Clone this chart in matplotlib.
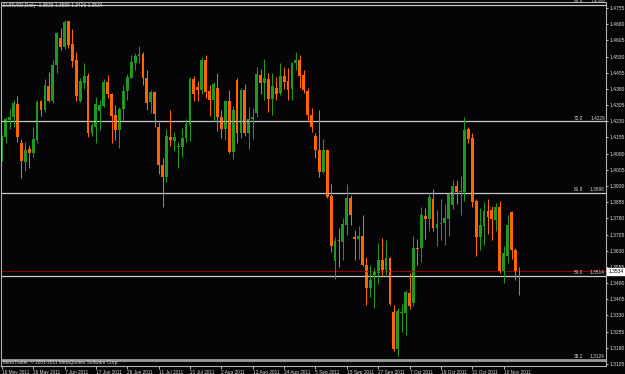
import matplotlib
matplotlib.use('Agg')
import matplotlib.pyplot as plt
import numpy as np

plt.rcParams['font.family'] = ['Liberation Sans', 'DejaVu Sans']

# EURUSD daily, 16 May 2011 - 16 Nov 2011
opens = [1.4089, 1.4156, 1.4236, 1.4248, 1.4309, 1.4128, 1.4043, 1.4100, 1.4084, 1.4143,
         1.4324, 1.4282, 1.4395, 1.4325, 1.4491, 1.4617, 1.4576, 1.4695, 1.4587, 1.4514,
         1.4324, 1.4409, 1.4441, 1.4177, 1.4205, 1.4279, 1.4302, 1.4413, 1.4356, 1.4259,
         1.4190, 1.4287, 1.4372, 1.4432, 1.4498, 1.4534, 1.4542, 1.4429, 1.4321, 1.4367,
         1.4205, 1.4027, 1.3973, 1.4159, 1.4140, 1.4112, 1.4112, 1.4154, 1.4213, 1.4426,
         1.4390, 1.4375, 1.4514, 1.4370, 1.4329, 1.4386, 1.4248, 1.4196, 1.4326, 1.4089,
         1.4421, 1.4177, 1.4375, 1.4177, 1.4239, 1.4270, 1.4444, 1.4406, 1.4426, 1.4332,
         1.4383, 1.4359, 1.4441, 1.4417, 1.4378, 1.4502, 1.4514, 1.4444, 1.4372, 1.4259,
         1.4162, 1.4097, 1.3993, 1.4097, 1.3884, 1.3584, 1.3680, 1.3672, 1.3749, 1.3876,
         1.3695, 1.3683, 1.3700, 1.3564, 1.3459, 1.3517, 1.3528, 1.3587, 1.3541, 1.3595,
         1.3345, 1.3173, 1.3343, 1.3343, 1.3436, 1.3389, 1.3644, 1.3641, 1.3791, 1.3776,
         1.3870, 1.3734, 1.3754, 1.3757, 1.3777, 1.3842, 1.3930, 1.3904, 1.3904, 1.4193,
         1.4154, 1.3862, 1.3695, 1.3745, 1.3814, 1.3819, 1.3772, 1.3834, 1.3538, 1.3606,
         1.3811, 1.3633, 1.3538]
highs = [1.4166, 1.4248, 1.4287, 1.4329, 1.4347, 1.4146, 1.4132, 1.4120, 1.4205, 1.4329,
         1.4329, 1.4426, 1.4460, 1.4514, 1.4645, 1.4661, 1.4699, 1.4697, 1.4658, 1.4549,
         1.4429, 1.4498, 1.4455, 1.4220, 1.4341, 1.4329, 1.4424, 1.4444, 1.4359, 1.4305,
         1.4295, 1.4398, 1.4449, 1.4537, 1.4545, 1.4579, 1.4553, 1.4468, 1.4375, 1.4370,
         1.4228, 1.4061, 1.4193, 1.4282, 1.4182, 1.4135, 1.4200, 1.4239, 1.4437, 1.4440,
         1.4418, 1.4526, 1.4537, 1.4398, 1.4414, 1.4455, 1.4282, 1.4329, 1.4375, 1.4301,
         1.4429, 1.4383, 1.4403, 1.4295, 1.4290, 1.4480, 1.4471, 1.4517, 1.4455, 1.4452,
         1.4437, 1.4502, 1.4483, 1.4475, 1.4506, 1.4553, 1.4537, 1.4468, 1.4383, 1.4290,
         1.4174, 1.4282, 1.4148, 1.4101, 1.3938, 1.3695, 1.3734, 1.3780, 1.3938, 1.3888,
         1.3726, 1.3745, 1.3796, 1.3602, 1.3564, 1.3548, 1.3664, 1.3687, 1.3680, 1.3602,
         1.3378, 1.3363, 1.3383, 1.3448, 1.3525, 1.3698, 1.3683, 1.3831, 1.3826, 1.3899,
         1.3915, 1.3819, 1.3868, 1.3847, 1.3904, 1.3958, 1.3958, 1.3976, 1.4251, 1.4202,
         1.4174, 1.3868, 1.3830, 1.3857, 1.3868, 1.3837, 1.3850, 1.3861, 1.3652, 1.3796,
         1.3813, 1.3641, 1.3555]
lows = [1.4047, 1.4128, 1.4194, 1.4205, 1.4135, 1.3969, 1.4000, 1.4015, 1.4066, 1.4128,
        1.4254, 1.4275, 1.4321, 1.4313, 1.4452, 1.4560, 1.4563, 1.4568, 1.4480, 1.4324,
        1.4318, 1.4380, 1.4159, 1.4160, 1.4128, 1.4190, 1.4298, 1.4336, 1.4128, 1.4143,
        1.4104, 1.4236, 1.4329, 1.4429, 1.4468, 1.4499, 1.4398, 1.4282, 1.4267, 1.4205,
        1.3986, 1.3834, 1.3950, 1.4115, 1.4094, 1.4015, 1.4066, 1.4135, 1.4138, 1.4325,
        1.4325, 1.4356, 1.4336, 1.4254, 1.4233, 1.4186, 1.4151, 1.4143, 1.4085, 1.4054,
        1.4128, 1.4151, 1.4162, 1.4101, 1.4146, 1.4248, 1.4356, 1.4329, 1.4275, 1.4259,
        1.4329, 1.4352, 1.4378, 1.4329, 1.4329, 1.4468, 1.4383, 1.4359, 1.4228, 1.4182,
        1.4058, 1.3973, 1.3989, 1.3873, 1.3626, 1.3497, 1.3556, 1.3587, 1.3703, 1.3749,
        1.3587, 1.3590, 1.3559, 1.3378, 1.3417, 1.3363, 1.3476, 1.3517, 1.3517, 1.3378,
        1.3167, 1.3142, 1.3255, 1.3239, 1.3358, 1.3374, 1.3564, 1.3579, 1.3683, 1.3723,
        1.3723, 1.3652, 1.3680, 1.3657, 1.3698, 1.3822, 1.3847, 1.3796, 1.3862, 1.4131,
        1.3831, 1.3606, 1.3633, 1.3657, 1.3708, 1.3680, 1.3723, 1.3525, 1.3482, 1.3575,
        1.3590, 1.3494, 1.3426]
closes = [1.4159, 1.4239, 1.4251, 1.4313, 1.4159, 1.4047, 1.4097, 1.4084, 1.4148, 1.4321,
          1.4282, 1.4398, 1.4325, 1.4491, 1.4638, 1.4576, 1.4692, 1.4583, 1.4509, 1.4347,
          1.4417, 1.4441, 1.4177, 1.4213, 1.4309, 1.4305, 1.4413, 1.4356, 1.4254, 1.4190,
          1.4287, 1.4372, 1.4434, 1.4503, 1.4533, 1.4542, 1.4429, 1.4316, 1.4364, 1.4264,
          1.4027, 1.3973, 1.4162, 1.4143, 1.4159, 1.4115, 1.4154, 1.4216, 1.4426, 1.4356,
          1.4375, 1.4514, 1.4367, 1.4329, 1.4403, 1.4248, 1.4196, 1.4326, 1.4089, 1.4282,
          1.4177, 1.4375, 1.4177, 1.4239, 1.4251, 1.4448, 1.4409, 1.4429, 1.4332, 1.4393,
          1.4356, 1.4441, 1.4414, 1.4375, 1.4502, 1.4514, 1.4441, 1.4375, 1.4259, 1.4205,
          1.4097, 1.3996, 1.4097, 1.3881, 1.3652, 1.3677, 1.3677, 1.3754, 1.3876, 1.3796,
          1.3683, 1.3698, 1.3564, 1.3459, 1.3494, 1.3530, 1.3587, 1.3541, 1.3595, 1.3383,
          1.3173, 1.3352, 1.3345, 1.3437, 1.3375, 1.3641, 1.3638, 1.3796, 1.3776, 1.3881,
          1.3737, 1.3754, 1.3760, 1.3783, 1.3896, 1.3930, 1.3904, 1.3908, 1.4190, 1.4148,
          1.3857, 1.3695, 1.3749, 1.3814, 1.3788, 1.3776, 1.3834, 1.3538, 1.3621, 1.3749,
          1.3633, 1.3538, 1.3534]

date_labels = ['16 May 2011', '26 May 2011', '7 Jun 2011', '17 Jun 2011', '29 Jun 2011',
               '11 Jul 2011', '21 Jul 2011', '2 Aug 2011', '12 Aug 2011', '24 Aug 2011',
               '5 Sep 2011', '15 Sep 2011', '27 Sep 2011', '7 Oct 2011', '19 Oct 2011',
               '31 Oct 2011', '10 Nov 2011']
bars_per_label = 8

price_ticks = [1.4755, 1.4680, 1.4605, 1.4530, 1.4455, 1.4380, 1.4305, 1.4230, 1.4155,
               1.4080, 1.4005, 1.3930, 1.3855, 1.3780, 1.3705, 1.3630, 1.3555, 1.3480,
               1.3405, 1.3330, 1.3255, 1.3180, 1.3105]

fib_levels = ['88.6', '72.0', '61.8', '50.0', '38.2']
fib_prices = [1.4769, 1.4229, 1.3898, 1.3514, 1.3124]

bg = '#050508'
up_col = '#1f9a1f'
dn_col = '#ff6400'
fg = '#d8d8d8'
fs = 3.4

o = np.array(opens); h = np.array(highs); l = np.array(lows); c = np.array(closes)
x = np.arange(len(o))
up = c >= o

fig = plt.figure(figsize=(6.25, 3.74), dpi=100, facecolor=bg)
ax = fig.add_axes([1/625, 8/374, 605/625, 364/374])
ax.set_facecolor(bg)

# wicks
ax.vlines(x[up], l[up], h[up], color=up_col, linewidth=0.75)
ax.vlines(x[~up], l[~up], h[~up], color=dn_col, linewidth=0.75)
# bodies
body = np.maximum(np.abs(c - o), 0.00025)
bottom = np.minimum(o, c)
ax.bar(x[up], body[up], bottom=bottom[up], width=0.72, color=up_col, linewidth=0)
ax.bar(x[~up], body[~up], bottom=bottom[~up], width=0.72, color=dn_col, linewidth=0)

# fibonacci levels
for lev, p in zip(fib_levels, fib_prices):
    lw = 2.0 if lev == '38.2' else 0.9
    col = '#9a9a9a' if lev == '38.2' else '#c8c8c8'
    ax.axhline(p, color=col, linewidth=lw, zorder=1)
    ax.text(148.3, p + 0.0004, lev, color=fg, fontsize=fs, ha='right', va='bottom')
    ax.text(153.8, p + 0.0004, '%.4f' % p, color=fg, fontsize=fs, ha='right', va='bottom')

# bid line
ax.axhline(closes[-1], color='#8b0000', linewidth=0.8, zorder=1)

ax.set_xlim(-0.2, 154.1)
ax.set_ylim(1.30957, 1.47828)

ax.yaxis.tick_right()
ax.set_yticks(price_ticks)
ax.set_yticklabels(['%.4f' % t for t in price_ticks])
ax.tick_params(axis='y', colors=fg, labelsize=3.6, length=1.5, width=0.6, pad=1)

ax.set_xticks(np.arange(len(date_labels)) * bars_per_label)
ax.set_xticklabels(date_labels)
for lab in ax.get_xticklabels():
    lab.set_horizontalalignment('left')
ax.tick_params(axis='x', colors=fg, labelsize=fs, length=2, width=0.6, pad=0.8)

for s in ax.spines.values():
    s.set_color('#b0b0b0')
    s.set_linewidth(0.8)

# current price box
ax.text(1.0 + 0.004, closes[-1], '%.4f' % closes[-1], transform=ax.get_yaxis_transform(),
        fontsize=3.6, color='black', va='center', ha='left',
        bbox=dict(boxstyle='square,pad=0.2', fc='white', ec='white'))

ax.text(0.003, 0.996, 'EURUSD,Daily  1.3538 1.3555 1.3426 1.3534', transform=ax.transAxes,
        color=fg, fontsize=3.5, va='top', ha='left')
ax.text(0.003, 0.004, 'MetaTrader, \u00a9 2001-2011 MetaQuotes Software Corp.', transform=ax.transAxes,
        color=fg, fontsize=fs, va='bottom', ha='left')

fig.savefig('out.png', dpi=100, facecolor=bg)
